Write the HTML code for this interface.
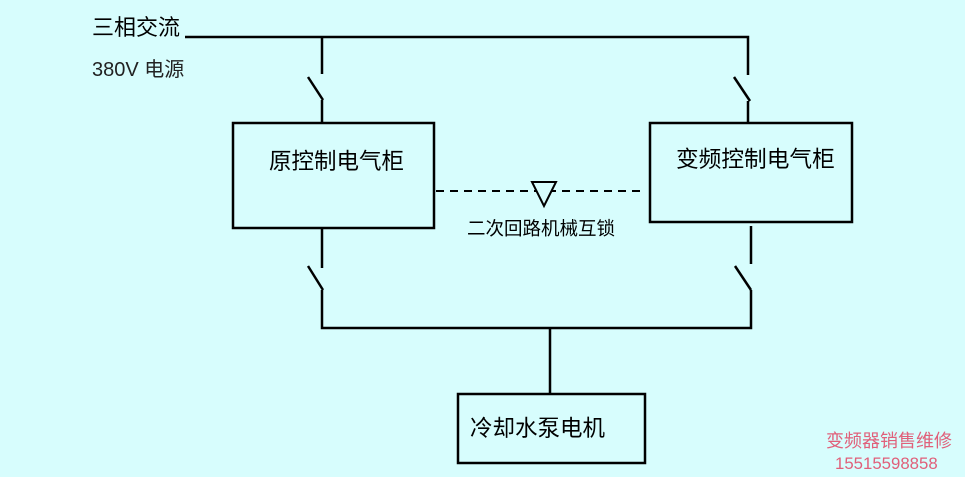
<!DOCTYPE html>
<html><head><meta charset="utf-8"><style>
html,body{margin:0;padding:0;background:#d7fdfd;}
svg{display:block;}
text{font-family:"Liberation Sans","WenQuanYi Zen Hei","Noto Sans CJK SC",sans-serif;}
</style></head><body>
<svg width="965" height="477" viewBox="0 0 965 477">
<rect width="965" height="477" fill="#d7fdfd"/>
<g stroke="#000" stroke-width="2.5" fill="none">
<polyline points="185,37 748,37 748,75"/>
<line x1="322" y1="37" x2="322" y2="74"/>
<line x1="308" y1="77" x2="323" y2="100"/>
<line x1="322" y1="100" x2="322" y2="123"/>
<line x1="734" y1="77" x2="750" y2="101"/>
<line x1="748" y1="101" x2="748" y2="123"/>
<rect x="233" y="123" width="201" height="105"/>
<rect x="650" y="123" width="202" height="99"/>
<line x1="322" y1="228" x2="322" y2="268"/>
<line x1="308" y1="266" x2="323" y2="290"/>
<polyline points="322,290 322,328 751,328 751,290"/>
<line x1="735" y1="266" x2="751" y2="290"/>
<line x1="751" y1="226" x2="751" y2="264"/>
<line x1="550" y1="328" x2="550" y2="395"/>
<rect x="458" y="394" width="187" height="69"/>
<line x1="436" y1="191" x2="643" y2="191" stroke-dasharray="8,6" stroke-width="2"/>
<polygon points="532,182 556,182 544,206" fill="#d7fdfd" stroke-width="2"/>
</g>
<g fill="#000">
<text x="92" y="35" font-size="22">三相交流</text>
<text x="92" y="76" font-size="20" fill="#222">380V 电源</text>
<text x="269" y="169" font-size="22.5">原控制电气柜</text>
<text x="676" y="167" font-size="22.7">变频控制电气柜</text>
<text x="467" y="235" font-size="18.5">二次回路机械互锁</text>
<text x="470" y="436" font-size="22.5">冷却水泵电机</text>
</g>
<text x="826" y="447" font-size="18" fill="#e0607a">变频器销售维修</text>
<text x="835" y="469" font-size="16.8" fill="#e0607a">15515598858</text>
</svg>
</body></html>
